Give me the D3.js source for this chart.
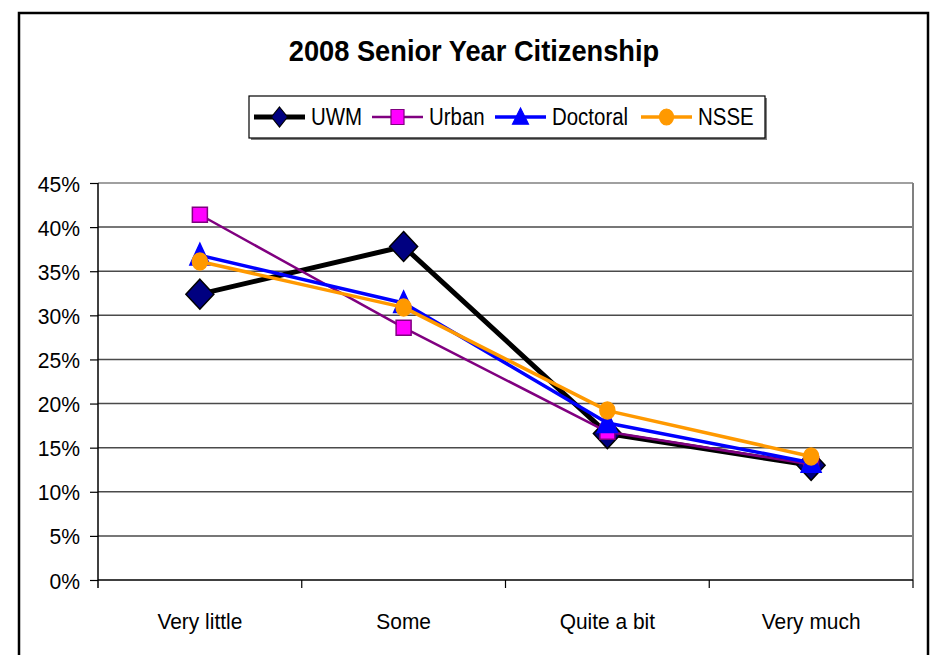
<!DOCTYPE html>
<html>
<head>
<meta charset="utf-8">
<script src="https://cdn.jsdelivr.net/npm/d3@7"></script>
<style>
  body { margin: 0; background: #fff; }
  text { font-family: "Liberation Sans", Arial, sans-serif; fill: #000; }
</style>
</head>
<body>
<script>
"use strict";

// categories and series
const categories = ["Very little", "Some", "Quite a bit", "Very much"];
const uwm      = [0.324, 0.378, 0.166, 0.130];
const urban    = [0.414, 0.286, 0.168, 0.131];
const doctoral = [0.368, 0.314, 0.178, 0.133];
const nsse     = [0.361, 0.309, 0.192, 0.140];
const yTicks   = [0, 0.05, 0.10, 0.15, 0.20, 0.25, 0.30, 0.35, 0.40, 0.45];

const series = [
    { name: "UWM",      values: uwm,      line: "#000000", fill: "#000080", stroke: "#000000", width: 5,   shape: "diamond" },
    { name: "Urban",    values: urban,    line: "#800080", fill: "#ff00ff", stroke: "#800080", width: 2.5, shape: "square" },
    { name: "Doctoral", values: doctoral, line: "#0000ff", fill: "#0000ff", stroke: "#0000ff", width: 3.5, shape: "triangle" },
    { name: "NSSE",     values: nsse,     line: "#ff9900", fill: "#ff9900", stroke: "#ff9900", width: 3.5, shape: "circle" }
];

let w = 933, h = 655;
let plot = { left: 98, right: 913, top: 183, bottom: 580 };

let svg = d3.select("body").append("svg")
    .attr("width", w)
    .attr("height", h);

// outer chart frame
svg.append("rect")
    .attr("x", 19).attr("y", 13)
    .attr("width", 909).attr("height", 700)
    .attr("fill", "#fff")
    .attr("stroke", "#000")
    .attr("stroke-width", 2.5);

let x = d3.scaleBand().domain(categories).range([plot.left, plot.right]).padding(0);
let y = d3.scaleLinear().domain([0, 0.45]).range([plot.bottom, plot.top]);
let cx = function (c) { return x(c) + x.bandwidth() / 2; };

// text squeezed sideways a little, like the original rendering
function squeezed(g, tx, ty, sx, size, str, anchor, weight) {
    return g.append("text")
        .attr("transform", "translate(" + tx + "," + ty + ") scale(" + sx + ",1)")
        .attr("text-anchor", anchor)
        .style("font-size", size + "px")
        .style("font-weight", weight || "normal")
        .text(str);
}

// gridlines
svg.append("g")
    .selectAll("line")
    .data(yTicks.filter(function (d) { return d > 0; }))
    .enter()
    .append("line")
    .attr("x1", plot.left).attr("x2", plot.right)
    .attr("y1", function (d) { return y(d); })
    .attr("y2", function (d) { return y(d); })
    .attr("stroke", function (d) { return d === 0.45 ? "#808080" : "#4a4a4a"; })
    .attr("stroke-width", 1.5);

// right edge of plot area
svg.append("line")
    .attr("x1", plot.right).attr("x2", plot.right)
    .attr("y1", plot.top).attr("y2", plot.bottom)
    .attr("stroke", "#808080").attr("stroke-width", 2);

// y axis
let yAxis = svg.append("g")
    .attr("transform", "translate(" + plot.left + ",0)")
    .call(d3.axisLeft(y).tickValues(yTicks).tickFormat(d3.format(".0%")).tickSize(8));
yAxis.select(".domain").attr("stroke", "#000").attr("stroke-width", 1.5).attr("d", "M0," + (plot.top) + "V" + (plot.bottom + 8));
yAxis.selectAll(".tick line").attr("stroke", "#000").attr("stroke-width", 1.2);
yAxis.selectAll(".tick text").remove();
yAxis.selectAll(".tick").each(function (d) {
    squeezed(d3.select(this), -18, 8, 0.96, 22, d3.format(".0%")(d), "end");
});

// x axis: ticks at category boundaries, labels at centres
let xAxisG = svg.append("g");
xAxisG.append("line")
    .attr("x1", plot.left).attr("x2", plot.right)
    .attr("y1", plot.bottom).attr("y2", plot.bottom)
    .attr("stroke", "#000").attr("stroke-width", 1.5);
xAxisG.selectAll(".xtick")
    .data(categories.slice(1).concat(["end"]))
    .enter()
    .append("line")
    .attr("class", "xtick")
    .attr("x1", function (d) { return d === "end" ? plot.right : x(d); })
    .attr("x2", function (d) { return d === "end" ? plot.right : x(d); })
    .attr("y1", plot.bottom).attr("y2", plot.bottom + 8)
    .attr("stroke", "#000").attr("stroke-width", 1.2);
categories.forEach(function (c) {
    squeezed(xAxisG, cx(c), 629, 0.93, 22.5, c, "middle");
});

// marker shapes
function shapePath(shape, sx, sy) {
    if (shape === "diamond") return "M0," + (-sy) + "L" + sx + ",0L0," + sy + "L" + (-sx) + ",0Z";
    if (shape === "square") return "M" + (-sx) + "," + (-sy) + "H" + sx + "V" + sy + "H" + (-sx) + "Z";
    if (shape === "triangle") return "M0," + (-sy) + "L" + sx + "," + (sy * 0.8) + "H" + (-sx) + "Z";
    return "M" + (-sx) + ",0A" + sx + "," + sy + " 0 1,0 " + sx + ",0A" + sx + "," + sy + " 0 1,0 " + (-sx) + ",0Z";
}
const markerSize = { diamond: [14, 15], square: [7.5, 7.5], triangle: [10, 12], circle: [7.5, 8.5] };
const legendSize = { diamond: [8, 10], square: [6.5, 7.5], triangle: [8, 9], circle: [7, 8] };

let line = d3.line()
    .x(function (d, i) { return cx(categories[i]); })
    .y(function (d) { return y(d); });

series.forEach(function (s) {
    let g = svg.append("g");
    g.append("path")
        .datum(s.values)
        .attr("d", line)
        .attr("fill", "none")
        .attr("stroke", s.line)
        .attr("stroke-width", s.width)
        .attr("stroke-linejoin", "round");
    g.selectAll(".mark")
        .data(s.values)
        .enter()
        .append("path")
        .attr("class", "mark")
        .attr("transform", function (d, i) { return "translate(" + cx(categories[i]) + "," + y(d) + ")"; })
        .attr("d", shapePath(s.shape, markerSize[s.shape][0], markerSize[s.shape][1]))
        .attr("fill", s.fill)
        .attr("stroke", s.stroke)
        .attr("stroke-width", 1.5);
});

// title
squeezed(svg, 474, 61, 0.94, 29, "2008 Senior Year Citizenship", "middle", "bold");

// legend
let legend = { x: 249, y: 96, w: 516, h: 42 };
svg.append("rect")
    .attr("x", legend.x + 2).attr("y", legend.y + 2)
    .attr("width", legend.w).attr("height", legend.h)
    .attr("fill", "#808080");
svg.append("rect")
    .attr("x", legend.x).attr("y", legend.y)
    .attr("width", legend.w).attr("height", legend.h)
    .attr("fill", "#fff").attr("stroke", "#000").attr("stroke-width", 1.2);

const legendX = [254, 372, 495, 641];
series.forEach(function (s, i) {
    let lx = legendX[i], ly = legend.y + legend.h / 2;
    let g = svg.append("g");
    g.append("line")
        .attr("x1", lx).attr("x2", lx + 51)
        .attr("y1", ly).attr("y2", ly)
        .attr("stroke", s.line)
        .attr("stroke-width", s.width);
    g.append("path")
        .attr("transform", "translate(" + (lx + 25.5) + "," + ly + ")")
        .attr("d", shapePath(s.shape, legendSize[s.shape][0], legendSize[s.shape][1]))
        .attr("fill", s.fill)
        .attr("stroke", s.stroke)
        .attr("stroke-width", 1.2);
    squeezed(g, lx + 57, ly + 8, 0.87, 23.5, s.name, "start");
});
</script>
</body>
</html>
